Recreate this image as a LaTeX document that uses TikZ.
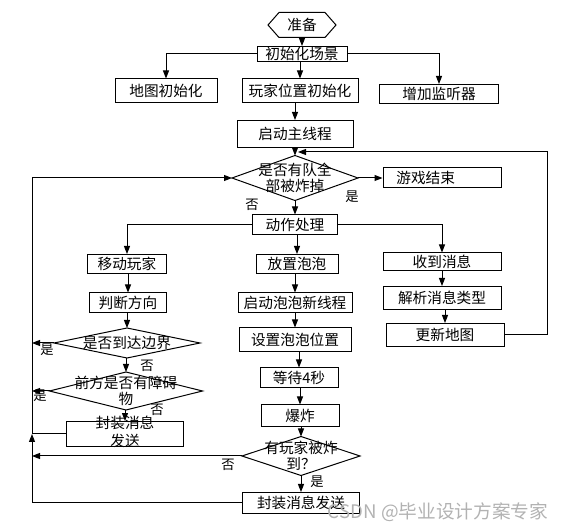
\documentclass[tikz,border=0pt]{standalone}
\usepackage{fontspec}
\newfontfamily\cjk{Noto Sans CJK SC}
\usetikzlibrary{arrows.meta}

\tikzset{every picture/.style={line width=0.75pt}}
\tikzset{
	box/.style={draw, rectangle, inner sep=0pt, font=\cjk\fontsize{11}{12}\selectfont, text height=9.5pt, text depth=1.5pt},
	decision/.style={rectangle, inner sep=0pt, align=center, font=\cjk\fontsize{11}{12}\selectfont},
	branch/.style={inner sep=0pt, font=\cjk\fontsize{10}{12}\selectfont},
	arr/.style={-{Triangle[length=6pt,width=4.5pt]}},
}

\begin{document}
\begin{tikzpicture}[x=0.75pt,y=0.75pt,yscale=-1,xscale=1]
		\useasboundingbox (0,0) rectangle (569,531);

		%Shape: Hexagon
		\node[decision, minimum width=50.25pt, minimum height=18pt] (prep) at (302,25) {准备};
		\draw (prep.west) -- ([xshift=8.25pt]prep.north west) -- ([xshift=-8.25pt]prep.north east) -- (prep.east) -- ([xshift=-8.25pt]prep.south east) -- ([xshift=8.25pt]prep.south west) -- cycle;

		% Boxes
		\node[box, minimum width=67.5pt, minimum height=11.25pt] (init) at (302,54) {初始化场景};
		\node[box, minimum width=76.5pt, minimum height=18pt] (mapinit) at (166,91) {地图初始化};
		\node[box, minimum width=87pt, minimum height=18pt] (playerinit) at (300,91) {玩家位置初始化};
		\node[box, minimum width=89.25pt, minimum height=14.25pt] (listener) at (439,94) {增加监听器};
		\node[box, minimum width=87pt, minimum height=20.25pt] (mainthread) at (295,134) {启动主线程};
		\node[box, minimum width=88.5pt, minimum height=15pt, inner xsep=10pt, text width=68.5pt, align=left] (gameover) at (442,178) {游戏结束};
		\node[box, minimum width=63.75pt, minimum height=15pt] (action) at (295,225) {动作处理};

		\node[box, minimum width=59.25pt, minimum height=14.25pt] (move) at (127,264) {移动玩家};
		\node[box, minimum width=57.75pt, minimum height=15pt] (dir) at (128,303) {判断方向};
		\node[box, minimum width=87.75pt, minimum height=18pt, text height=18.7pt, text depth=-0.7pt] (sendA) at (125,434) {\shortstack{封装消息\\发送}};

		\node[box, minimum width=61.5pt, minimum height=14.25pt] (bubble) at (297,264) {放置泡泡};
		\node[box, minimum width=85.5pt, minimum height=15pt] (thread) at (295,303) {启动泡泡新线程};
		\node[box, minimum width=84pt, minimum height=18pt] (setpos) at (295,340) {设置泡泡位置};
		\node[box, minimum width=58.5pt, minimum height=15pt] (wait) at (299,378) {等待4秒};
		\node[box, minimum width=58.5pt, minimum height=16.5pt] (boom) at (300,416) {爆炸};
		\node[box, minimum width=87.75pt, minimum height=15.75pt] (sendB) at (301,503) {封装消息发送};

		\node[box, minimum width=88.5pt, minimum height=13.5pt] (recv) at (442,262) {收到消息};
		\node[box, minimum width=88.5pt, minimum height=17.25pt] (parse) at (442,298) {解析消息类型};
		\node[box, minimum width=88.5pt, minimum height=17.25pt] (update) at (445,335) {更新地图};

		% Decisions
		\node[decision, minimum width=93.75pt, minimum height=33pt] (check) at (295,178) {是否有队全\\部被炸掉};
		\node[decision, minimum width=108.75pt, minimum height=21.75pt] (edge) at (127,343) {是否到达边界};
		\node[decision, minimum width=114pt, minimum height=27.75pt] (obst) at (126,391) {前方是否有障碍\\物};
		\node[decision, minimum width=87.75pt, minimum height=28.5pt] (hit) at (301,456) {有玩家被炸\\到？};
		\foreach \d in {check,edge,obst,hit}
			\draw (\d.west) -- (\d.north) -- (\d.east) -- (\d.south) -- cycle;

		\coordinate (rail) at (32,178);
		\coordinate (loopR) at (547,152);
		\coordinate (loopTip) at (298,152);

		% Connectors
		\draw[arr] (prep.south) -- (init.north);
		\draw[arr] (init.west) -| (mapinit.north);
		\draw[arr] (init.south -| playerinit.north) -- (playerinit.north);
		\draw[arr] (init.east) -| (listener.north);
		\draw[arr] (playerinit.south -| mainthread.north) -- (mainthread.north);
		\draw[arr] (mainthread.south) -- (check.north);
		\draw[arr] (check.east) -- (gameover.west);
		\draw[arr] (check.south) -- (action.north);
		\draw[arr] (action.west) -| (move.north);
		\draw[arr] (action.south -| bubble.north) -- (bubble.north);
		\draw[arr] (action.east) -| (recv.north);
		\foreach \a/\b in {move/dir,dir/edge,edge/obst,obst/sendA,bubble/thread,thread/setpos,setpos/wait,wait/boom,boom/hit,hit/sendB,recv/parse,parse/update}
			\draw[arr] (\a.south -| \b.north) -- (\b.north);
		\draw[arr] (edge.west) -- (edge.west -| rail);
		\draw[arr] (obst.west) -- (obst.west -| rail);
		\draw[arr] (hit.west) -- (hit.west -| rail);
		\draw[arr] (sendA.west) -| (rail) -- (check.west);
		\draw[arr] (sendB.west) -| (sendA.west -| rail);
		\draw[arr] (update.east) -| (loopR) -- (loopTip);

		% Text Node
		\node[branch] (chkyes) at (352,197) {是};
		\node[branch] (chkno) at (252,205) {否};
		\node[branch] (edgeyes) at (47,350) {是};
		\node[branch] (edgeno) at (147,366) {否};
		\node[branch] (obstyes) at (40,396) {是};
		\node[branch] (obstno) at (157,410) {否};
		\node[branch] (hitno) at (228,465) {否};
		\node[branch] (hityes) at (317,482) {是};

		% Watermark
		\node[inner sep=0pt, text=gray!60, font=\cjk\fontsize{14}{16}\selectfont] (csdn) at (438,512) {CSDN @毕业设计方案专家};

\end{tikzpicture}
\end{document}
